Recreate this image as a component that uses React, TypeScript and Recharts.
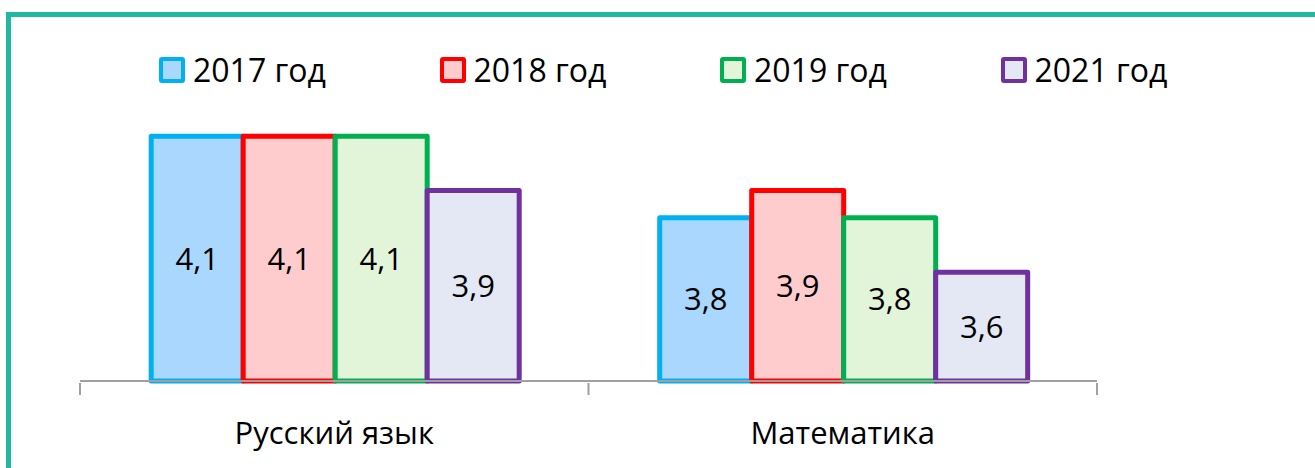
import { Bar, BarChart, LabelList, Legend, XAxis, YAxis } from 'recharts'

const subjects = ['Русский язык', 'Математика']
const y2017 = [4.1, 3.8]
const y2018 = [4.1, 3.9]
const y2019 = [4.1, 3.8]
const y2021 = [3.9, 3.6]

const series = [
  { key: 'y2017', name: '2017 год', stroke: '#00b0f0', fill: '#a9d7fd' },
  { key: 'y2018', name: '2018 год', stroke: '#ff0000', fill: '#ffcccd' },
  { key: 'y2019', name: '2019 год', stroke: '#00b050', fill: '#e3f5d9' },
  { key: 'y2021', name: '2021 год', stroke: '#7030a0', fill: '#e4e8f5' },
]

const data = subjects.map((name, i) => ({
  name,
  y2017: y2017[i],
  y2018: y2018[i],
  y2019: y2019[i],
  y2021: y2021[i],
}))

const font = "'Open Sans', sans-serif"

const fmt = (v: any) => String(v).replace('.', ',')

function EdgeTick(props: any) {
  const { x, y, payload, index } = props
  const off = payload.offset ?? 0
  return (
    <g>
      <line x1={x - off} y1={y - 12} x2={x - off} y2={y} stroke='#a0a0a0' strokeWidth={2} />
      {index === subjects.length - 1 && (
        <line x1={x + off} y1={y - 12} x2={x + off} y2={y} stroke='#a0a0a0' strokeWidth={2} />
      )}
      <text x={x} y={y + 49} textAnchor='middle' fontSize={31} fill='#000' fontFamily={font}>
        {payload.value}
      </text>
    </g>
  )
}

function LegendBox() {
  return (
    <div style={{ display: 'flex', fontFamily: font, fontSize: 32, color: '#000' }}>
      {series.map((s) => (
        <div key={s.key} style={{ width: 280.5, display: 'flex', alignItems: 'center' }}>
          <span
            style={{
              width: 18,
              height: 18,
              border: `4px solid ${s.stroke}`,
              borderRadius: 3,
              background: s.fill,
              marginRight: 8,
              flex: 'none',
            }}
          />
          <span style={{ lineHeight: '40px' }}>{s.name}</span>
        </div>
      ))}
    </div>
  )
}

export default function App() {
  return (
    <div style={{ position: 'absolute', left: 0, top: 0, width: 1315, height: 468, overflow: 'hidden', background: '#fff' }}>
      <div
        style={{
          position: 'absolute',
          left: 6,
          top: 12,
          width: 1400,
          height: 600,
          border: '5px solid #20b8a0',
        }}
      />
      <div style={{ position: 'absolute', left: 0, top: 0 }}>
        <BarChart
          width={1315}
          height={468}
          data={data}
          margin={{ top: 109, right: 218, bottom: 17, left: 80 }}
          barCategoryGap='14%'
          barGap={0}
        >
          <XAxis
            dataKey='name'
            height={70}
            axisLine={{ stroke: '#a0a0a0', strokeWidth: 2 }}
            tickLine={false}
            tickSize={12}
            tick={<EdgeTick />}
            interval={0}
          />
          <YAxis hide domain={[3.2, 4.2]} />
          <Legend
            verticalAlign='middle'
            layout='horizontal'
            content={<LegendBox />}
            wrapperStyle={{ top: 50, left: 159, width: 1140 }}
          />
          {series.map((s) => (
            <Bar
              key={s.key}
              dataKey={s.key}
              name={s.name}
              fill={s.fill}
              stroke={s.stroke}
              strokeWidth={5}
              strokeLinejoin='round'
              isAnimationActive={false}
            >
              <LabelList dataKey={s.key} position='center' formatter={fmt} fontSize={31} fill='#000' fontFamily={font} />
            </Bar>
          ))}
        </BarChart>
      </div>
    </div>
  )
}
